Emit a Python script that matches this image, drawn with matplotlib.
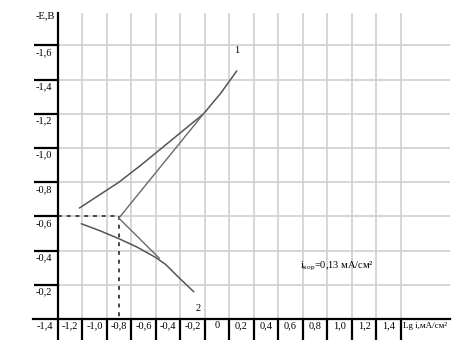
import matplotlib
matplotlib.use("Agg")
import matplotlib.pyplot as plt
import matplotlib.transforms as mtransforms

plt.rcParams["font.family"] = ["Liberation Serif", "DejaVu Serif"]
plt.rcParams["mathtext.fontset"] = "custom"
plt.rcParams["mathtext.rm"] = "Liberation Serif"
plt.rcParams["mathtext.it"] = "Liberation Serif:italic"

# Кривая 1 (верхняя ветвь) и кривая 2 (нижняя ветвь), lg i – E
curve1_x = [-1.12, -0.96, -0.80, -0.62, -0.45, -0.28, -0.11, 0.03, 0.16]
curve1_y = [-0.65, -0.725, -0.80, -0.90, -1.00, -1.10, -1.20, -1.32, -1.45]
curve2_x = [-1.105, -0.95, -0.80, -0.65, -0.50, -0.42, -0.30, -0.19]
curve2_y = [-0.557, -0.515, -0.47, -0.42, -0.36, -0.32, -0.235, -0.16]

# Тафелевские прямые из точки коррозии
tafel1_x = [-0.80, -0.11]
tafel1_y = [-0.59, -1.20]
tafel2_x = [-0.80, -0.47]
tafel2_y = [-0.59, -0.355]

lg_i_corr = -0.80
e_corr = -0.60

x_labels = [-1.4, -1.2, -1.0, -0.8, -0.6, -0.4, -0.2, 0, 0.2, 0.4, 0.6, 0.8, 1.0, 1.2, 1.4]
x_grid = [-1.3, -1.1, -0.9, -0.7, -0.5, -0.3, -0.1, 0.1, 0.3, 0.5, 0.7, 0.9, 1.1, 1.3, 1.5]
y_labels = [-0.2, -0.4, -0.6, -0.8, -1.0, -1.2, -1.4, -1.6]


def fmt(v):
    if v == 0:
        return "0"
    return f"{v:.1f}".replace(".", ",")


fig = plt.figure(figsize=(4.69, 3.49), dpi=100)
ax = fig.add_axes([33 / 469, 1 - 319 / 349, 417 / 469, 306 / 349])
ax.set_xlim(-1.5, 1.9)
ax.set_ylim(0, -1.79)

# сетка
for gx in x_grid:
    ax.plot([gx, gx], [0, -1.79], color="#d0d0d0", lw=1.2, zorder=1)
for gy in y_labels:
    ax.plot([-1.3, 1.9], [gy, gy], color="#d0d0d0", lw=1.2, zorder=1)

# оси
for s in ["top", "right"]:
    ax.spines[s].set_visible(False)
ax.spines["left"].set_position(("data", -1.3))
ax.spines["left"].set_linewidth(1.6)
ax.spines["bottom"].set_linewidth(1.6)
ax.set_xticks(x_grid)
ax.set_yticks(y_labels)
ax.tick_params(axis="x", direction="out", length=15, width=1.6, labelbottom=False)
ax.tick_params(axis="y", direction="out", length=17.5, width=1.6, labelleft=False)

# кривые
ax.plot(curve1_x, curve1_y, color="#555555", lw=1.1, zorder=3)
ax.plot(curve2_x, curve2_y, color="#555555", lw=1.1, zorder=3)
ax.plot(tafel1_x, tafel1_y, color="#6a6a6a", lw=1.0, zorder=3)
ax.plot(tafel2_x, tafel2_y, color="#6a6a6a", lw=1.0, zorder=3)

# пунктир к i_кор
ax.plot([-1.3, lg_i_corr], [e_corr, e_corr], color="#444444", lw=1.4,
        linestyle=(0, (2, 2.5)), zorder=2)
ax.plot([lg_i_corr, lg_i_corr], [e_corr, 0], color="#444444", lw=1.4,
        linestyle=(0, (2, 2.5)), zorder=2)

fs = 7.5
# подписи оси X (между делениями)
for v in x_labels:
    ax.text(v, 0.04, fmt(v), ha="center", va="center", fontsize=fs, clip_on=False)
ax.text(1.70, 0.04, "Lg i,мА/см²", ha="center", va="center", fontsize=6.5,
        clip_on=False)

# подписи оси Y (под делениями)
trans = mtransforms.blended_transform_factory(ax.transAxes, ax.transData)
for v in y_labels:
    ax.text(0.027, v + 0.015, fmt(v), ha="center", va="top", fontsize=fs,
            transform=trans, clip_on=False)
ax.text(0.029, -1.775, "-E,B", ha="center", va="center", fontsize=fs,
        transform=trans, clip_on=False)

ax.text(0.16, -1.57, "1", ha="center", va="center", fontsize=fs)
ax.text(-0.15, -0.06, "2", ha="center", va="center", fontsize=fs)
ax.text(0.98, -0.31, r"i$_{\mathrm{кор}}$=0,13 мА/см²", ha="center", va="center",
        fontsize=fs)

fig.savefig("out.png", dpi=100, facecolor="white")
